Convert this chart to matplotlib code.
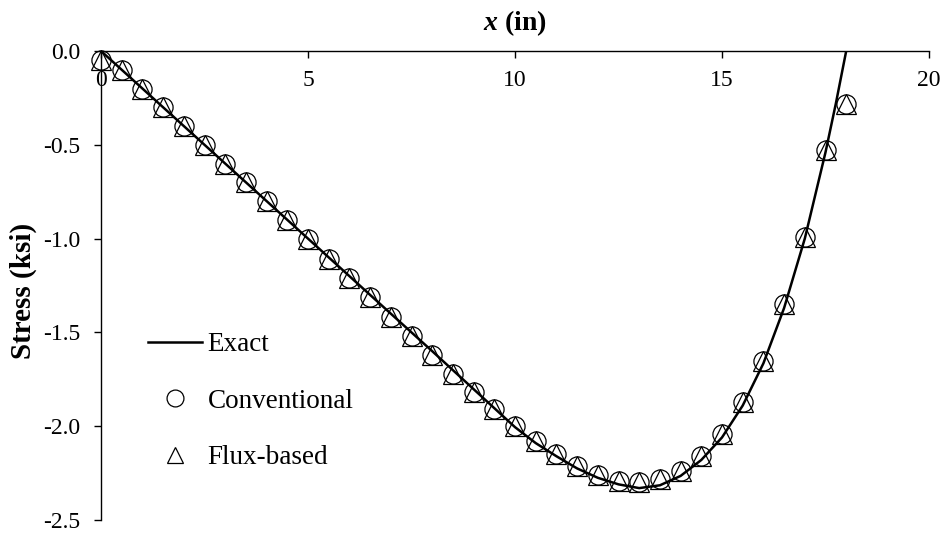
import matplotlib
matplotlib.use("Agg")
import matplotlib.pyplot as plt
from matplotlib.ticker import FormatStrFormatter, MultipleLocator

plt.rcParams["font.family"] = ["Liberation Serif", "DejaVu Serif"]
plt.rcParams["mathtext.fontset"] = "custom"
plt.rcParams["mathtext.rm"] = "Liberation Serif"
plt.rcParams["mathtext.bf"] = "Liberation Serif:bold"
plt.rcParams["mathtext.it"] = "Liberation Serif:italic"
plt.rcParams["mathtext.bfit"] = "Liberation Serif:italic:bold"
plt.rcParams["axes.unicode_minus"] = False

# exact solution along the bar
x_exact = [0.0, 2.0, 4.0, 6.0, 8.0, 10.0, 10.5, 11.0, 11.5, 12.0, 12.5, 13.0,
           13.5, 14.0, 14.5, 15.0, 15.5, 16.0, 16.5, 17.0, 17.5, 17.75, 18.0]
s_exact = [0.0, -0.40, -0.80, -1.20, -1.60, -2.005, -2.09, -2.16, -2.225, -2.275,
           -2.31, -2.33, -2.315, -2.265, -2.18, -2.06, -1.89, -1.665, -1.37,
           -1.00, -0.54, -0.28, 0.0]

# nodal stresses from the two formulations
x_nodes = [0.0, 0.5, 1.0, 1.5, 2.0, 2.5, 3.0, 3.5, 4.0, 4.5, 5.0, 5.5, 6.0, 6.5,
           7.0, 7.5, 8.0, 8.5, 9.0, 9.5, 10.0, 10.5, 11.0, 11.5, 12.0, 12.5,
           13.0, 13.5, 14.0, 14.5, 15.0, 15.5, 16.0, 16.5, 17.0, 17.5, 18.0]
s_conventional = [-0.05, -0.10, -0.20, -0.30, -0.40, -0.50, -0.60, -0.70, -0.80,
                  -0.90, -1.00, -1.11, -1.21, -1.31, -1.42, -1.52, -1.62, -1.72,
                  -1.82, -1.91, -2.00, -2.08, -2.15, -2.21, -2.26, -2.29, -2.30,
                  -2.28, -2.24, -2.16, -2.04, -1.87, -1.65, -1.35, -0.99, -0.53,
                  -0.28]
s_flux = [-0.05, -0.10, -0.20, -0.30, -0.40, -0.50, -0.60, -0.70, -0.80,
          -0.90, -1.00, -1.11, -1.21, -1.31, -1.42, -1.52, -1.62, -1.72,
          -1.82, -1.91, -2.00, -2.08, -2.15, -2.21, -2.26, -2.29, -2.30,
          -2.28, -2.24, -2.16, -2.04, -1.87, -1.65, -1.35, -0.99, -0.53,
          -0.28]

fig = plt.figure(figsize=(9.49, 5.34), dpi=100)
ax = fig.add_axes([101 / 949, 1 - 520 / 534, 828 / 949, 469 / 534])

ax.plot(x_exact, s_exact, color="black", lw=1.8, label="Exact", zorder=3)
ax.plot(x_nodes, s_conventional, ls="none", marker="o", ms=13.8, mfc="none",
        mec="black", mew=0.9, label="Conventional", clip_on=False, zorder=4)
ax.plot(x_nodes, s_flux, ls="none", marker="^", ms=13.8, mfc="none",
        mec="black", mew=0.9, label="Flux-based", clip_on=False, zorder=4)

ax.set_xlim(0, 20)
ax.set_ylim(-2.5, 0)

# x axis sits along the top edge, ticks and labels hang below it
ax.spines["bottom"].set_position(("axes", 1.0))
ax.spines["right"].set_visible(False)
ax.spines["top"].set_visible(False)
for sp in ("left", "bottom"):
    ax.spines[sp].set_linewidth(1.0)
ax.xaxis.set_major_locator(MultipleLocator(5))
ax.yaxis.set_major_locator(MultipleLocator(0.5))
ax.yaxis.set_major_formatter(FormatStrFormatter("%.1f"))
ax.tick_params(axis="x", direction="out", length=5, width=1.0, pad=9, labelsize=17)
ax.tick_params(axis="y", direction="out", length=5, width=1.0, pad=10, labelsize=17)

ax.xaxis.set_label_position("top")
ax.set_xlabel(r"$\mathbfit{x}$ (in)", fontsize=20, fontweight="bold", labelpad=15)
ax.set_ylabel("Stress (ksi)", fontsize=21, fontweight="bold")
ax.yaxis.set_label_coords(-0.077, 0.488)

ax.legend(loc="upper left", bbox_to_anchor=(148 / 949, 1 - 332 / 534),
          bbox_transform=fig.transFigure, frameon=False, fontsize=19.5,
          handlelength=2.0, handletextpad=0.2, labelspacing=1.17,
          markerscale=0.88, borderpad=0, borderaxespad=0)

fig.savefig("out.png", dpi=100)
